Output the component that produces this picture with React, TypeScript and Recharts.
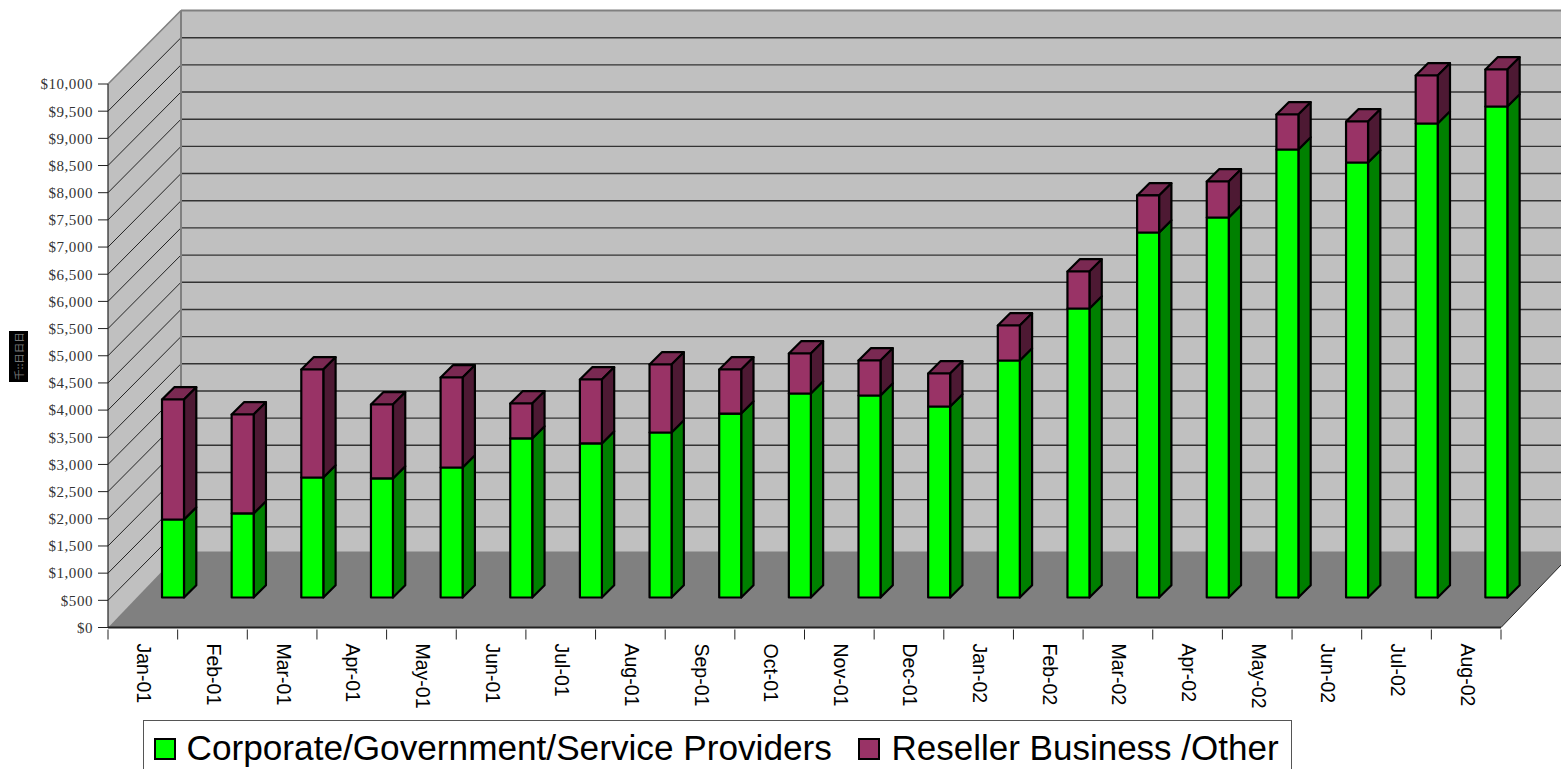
import React from "react";
import { BarChart, Bar, XAxis, YAxis, Legend, usePlotArea } from "recharts";

const months = ["Jan-01","Feb-01","Mar-01","Apr-01","May-01","Jun-01","Jul-01","Aug-01","Sep-01","Oct-01","Nov-01","Dec-01","Jan-02","Feb-02","Mar-02","Apr-02","May-02","Jun-02","Jul-02","Aug-02"];
const corporate = [1435,1546,2208,2190,2392,2926,2834,3036,3385,3753,3717,3514,4361,5317,6716,6992,8243,8004,8721,9034];
const reseller = [2208,1821,1987,1361,1656,643,1177,1251,810,736,644,607,644,681,681,662,644,754,883,681];
const yTicks = [0,500,1000,1500,2000,2500,3000,3500,4000,4500,5000,5500,6000,6500,7000,7500,8000,8500,9000,9500,10000];
const rows = months.map((month, i) => ({ month, corporate: corporate[i], reseller: reseller[i] }));

const W = 1561, H = 769;
const M = { top: 84, right: 60, bottom: 30, left: 0 };
const AXIS_W = 108, AXIS_H = 111.5;
const YMAX = 10000;
const DX = 73, DY = 73.5;
const BAR_SHIFT = 30, BAR_DEPTH = 12.3;
const OUT = "#000";

function Walls() {
  const p = usePlotArea();
  if (!p) return null;
  const { x, y, width: w, height: h } = p;
  const yOf = (v: number) => y + h * (1 - v / YMAX);
  const bot = y + h;
  return (
    <g>
      <polygon points={`${x},${y} ${x + DX},${y - DY} ${x + DX},${bot - DY} ${x},${bot}`} fill="#C0C0C0" />
      <rect x={x + DX} y={y - DY} width={W} height={h} fill="#C0C0C0" />
      {yTicks.filter((v) => v > 0 && v < YMAX).map((v) => (
        <g key={v}>
          <line x1={x} y1={yOf(v)} x2={x + DX} y2={yOf(v) - DY} stroke="#111" strokeWidth={0.9} />
          <line x1={x + DX} y1={yOf(v) - DY} x2={W} y2={yOf(v) - DY} stroke="#333" strokeWidth={1.4} />
        </g>
      ))}
      <polygon points={`${x},${bot} ${x + DX},${bot - DY - 2.5} ${x + w + DX},${bot - DY - 2.5} ${x + w},${bot}`} fill="#808080" />
      <line x1={x + w} y1={bot} x2={x + w + DX} y2={bot - DY - 2.5} stroke="#222" strokeWidth={1} />
      <line x1={x} y1={y} x2={x + DX} y2={y - DY} stroke="#808080" strokeWidth={1.6} />
      <line x1={x + DX} y1={y - DY} x2={W} y2={y - DY} stroke="#808080" strokeWidth={2} />
      <line x1={x + DX} y1={y - DY} x2={x + DX} y2={bot - DY} stroke="#808080" strokeWidth={2} />
      <line x1={x} y1={y} x2={x} y2={bot} stroke="#222" strokeWidth={1.2} />
      <rect x={9} y={331} width={19} height={51} fill="#000" />
      <text transform="translate(22.5,380) rotate(-90)" fontFamily="'Noto Sans CJK SC'" fontSize={10.5} fill="#777">千::日日日</text>
    </g>
  );
}

const colours: Record<string, { side: string; top: string }> = {
  "#00FF00": { side: "#008000", top: "#00C000" },
  "#993366": { side: "#4D1933", top: "#7A2952" },
};

function Bar3D(props: any) {
  const { x, y, width: w, height: h, fill, showTop } = props;
  const fx = x + BAR_SHIFT, fy = y - BAR_SHIFT, d = BAR_DEPTH;
  const c = colours[fill];
  return (
    <g stroke={OUT} strokeWidth={2.2} strokeLinejoin="round">
      {showTop && <polygon points={`${fx},${fy} ${fx + d},${fy - d} ${fx + w + d},${fy - d} ${fx + w},${fy}`} fill={c.top} />}
      <polygon points={`${fx + w},${fy} ${fx + w + d},${fy - d} ${fx + w + d},${fy + h - d} ${fx + w},${fy + h}`} fill={c.side} />
      <rect x={fx} y={fy} width={w} height={h} fill={fill} />
    </g>
  );
}

function XTick(props: any) {
  const { x, y, payload, index } = props;
  const half = (W - AXIS_W - M.right) / months.length / 2;
  return (
    <g>
      <line x1={x - half} y1={y} x2={x - half} y2={y + 10} stroke="#222" strokeWidth={1} />
      {index === months.length - 1 && <line x1={x + half} y1={y} x2={x + half} y2={y + 10} stroke="#222" strokeWidth={1} />}
      <text transform={`translate(${x - 5.5},${y + 14}) rotate(90)`} fontFamily="'Liberation Sans'" fontSize={19.5} fill="#000">{payload.value}</text>
    </g>
  );
}

function LegendBox(props: any) {
  const items = props.payload || [];
  const lefts = [10, 713.5];
  const textLefts = [42.5, 747.5];
  return (
    <div style={{ position: "relative", width: 1149, height: 60, border: "1px solid #555", boxSizing: "border-box", background: "#fff" }}>
      {items.map((it: any, i: number) => (
        <React.Fragment key={it.value}>
          <div style={{ position: "absolute", left: lefts[i], top: 17, width: 22, height: 22, boxSizing: "border-box", border: "2px solid #000", background: it.color }} />
          <div style={{ position: "absolute", left: textLefts[i], top: 6.5, fontFamily: "'Liberation Sans'", fontSize: i === 0 ? 35.2 : 35, lineHeight: "40px", color: "#000", whiteSpace: "nowrap" }}>{it.value}</div>
        </React.Fragment>
      ))}
    </div>
  );
}

export default function App() {
  return (
    <div style={{ position: "absolute", left: 0, top: 0, width: W, height: H, overflow: "hidden", background: "#fff" }}>
      <BarChart width={W} height={H} data={rows} margin={M} barSize={22}>
        <Walls />
        <XAxis dataKey="month" interval={0} height={AXIS_H} tickSize={0} tick={<XTick />} axisLine={{ stroke: "#222", strokeWidth: 2 }} />
        <YAxis
          width={AXIS_W}
          domain={[0, YMAX]}
          ticks={yTicks}
          interval={0}
          tickSize={10}
          tickMargin={5}
          tickFormatter={(v: number) => "$" + v.toLocaleString("en-US")}
          tick={{ fontFamily: "'Liberation Serif'", fontSize: 15, fill: "#333", letterSpacing: 0.55 }}
          tickLine={{ stroke: "#222" }}
          axisLine={false}
        />
        <Legend layout="horizontal" verticalAlign="middle" align="center" content={<LegendBox />} wrapperStyle={{ left: 143, top: 720, width: 1149, height: 60 }} />
        <Bar dataKey="corporate" name="Corporate/Government/Service Providers" stackId="a" fill="#00FF00" isAnimationActive={false} shape={(p: any) => <Bar3D {...p} showTop={false} />} />
        <Bar dataKey="reseller" name="Reseller Business /Other" stackId="a" fill="#993366" isAnimationActive={false} shape={(p: any) => <Bar3D {...p} showTop />} />
      </BarChart>
    </div>
  );
}
